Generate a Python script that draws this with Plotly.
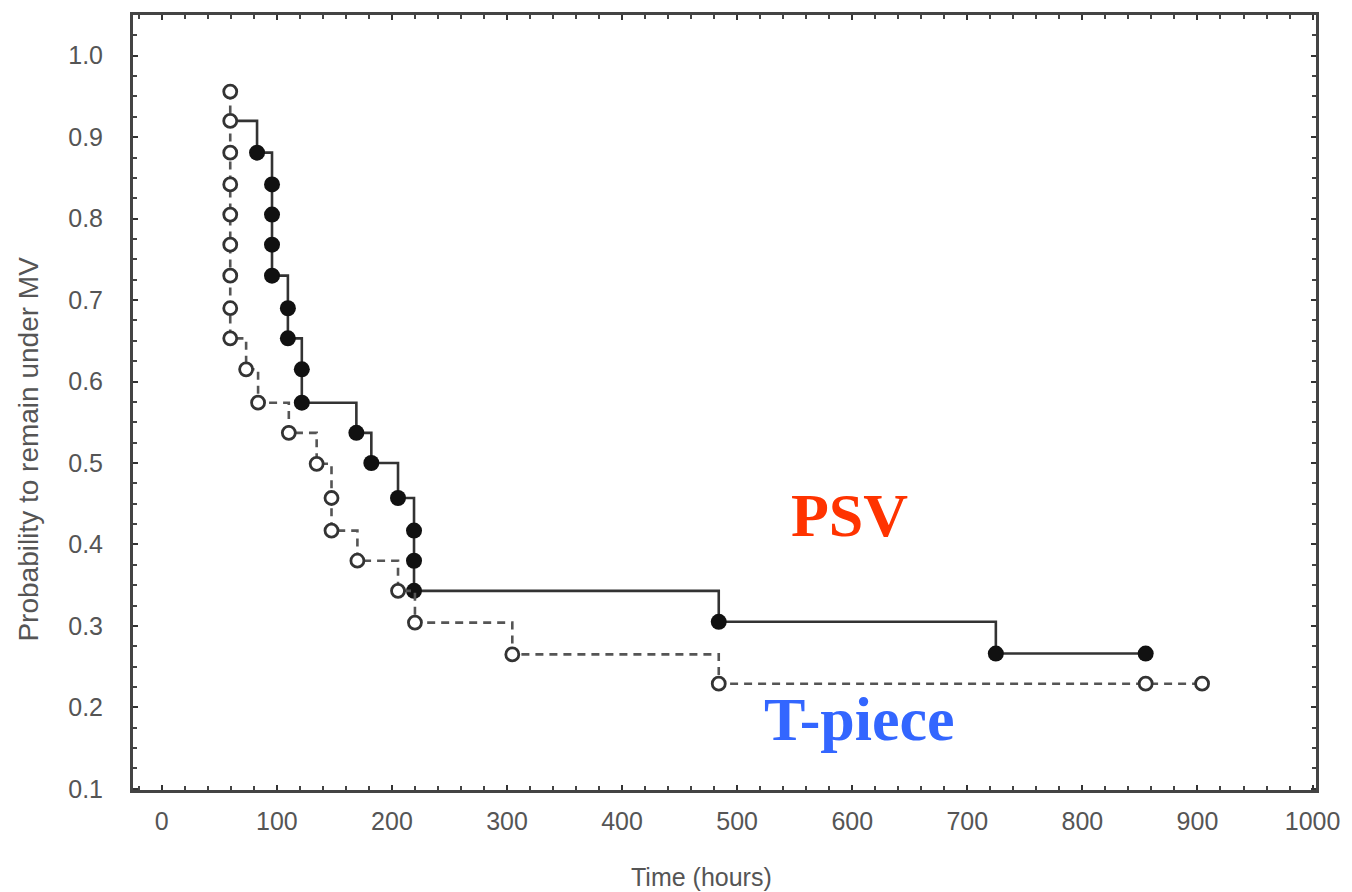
import plotly.graph_objects as go

# ---- data ----
psv_time = [59.5, 82.8, 95.8, 95.8, 95.8, 95.8, 109.6, 109.6, 121.7, 121.7,
            169.1, 182.1, 205.3, 219.2, 219.2, 219.2, 484.0, 724.8, 855.0]
psv_prob = [0.920, 0.881, 0.842, 0.805, 0.768, 0.730, 0.690, 0.653, 0.615, 0.574,
            0.537, 0.500, 0.457, 0.417, 0.380, 0.343, 0.305, 0.266, 0.266]

tp_time = [59.5, 59.5, 59.5, 59.5, 59.5, 59.5, 59.5, 59.5, 59.5, 73.3,
           83.7, 110.4, 134.6, 147.5, 147.5, 170.0, 205.3, 220.0, 304.6, 484.0,
           855.0, 904.0]
tp_prob = [0.956, 0.920, 0.881, 0.842, 0.805, 0.768, 0.730, 0.690, 0.653, 0.615,
           0.574, 0.537, 0.499, 0.457, 0.417, 0.380, 0.343, 0.304, 0.265, 0.229,
           0.229, 0.229]

x_ticks = [0, 100, 200, 300, 400, 500, 600, 700, 800, 900, 1000]
y_ticks = [0.1, 0.2, 0.3, 0.4, 0.5, 0.6, 0.7, 0.8, 0.9, 1.0]

labels = {"psv": "PSV", "tp": "T-piece",
          "x": "Time (hours)", "y": "Probability to remain under MV"}

fig = go.Figure()

# PSV step line (solid)
fig.add_trace(go.Scatter(
    x=psv_time, y=psv_prob, mode="lines", line_shape="hv",
    line=dict(color="#333333", width=2.6), showlegend=False, hoverinfo="skip"))
# PSV markers (filled)
fig.add_trace(go.Scatter(
    x=psv_time[1:], y=psv_prob[1:], mode="markers",
    marker=dict(symbol="circle", size=16, color="#111111",
                line=dict(color="#111111", width=0)),
    showlegend=False, name=labels["psv"]))

# T-piece step line (dashed)
fig.add_trace(go.Scatter(
    x=tp_time, y=tp_prob, mode="lines", line_shape="hv",
    line=dict(color="#555555", width=2.6, dash="8px,6px"),
    showlegend=False, hoverinfo="skip"))
# T-piece markers (open)
fig.add_trace(go.Scatter(
    x=tp_time, y=tp_prob, mode="markers",
    marker=dict(symbol="circle", size=13, color="white",
                line=dict(color="#333333", width=2.8)),
    showlegend=False, name=labels["tp"]))

tick_font = dict(family="Liberation Sans, Arial, sans-serif", size=25, color="#555555")

fig.update_xaxes(
    range=[-25, 1003], tickmode="array", tickvals=x_ticks,
    ticktext=[str(v) for v in x_ticks],
    ticks="inside", ticklen=5, tickwidth=2, tickcolor="#333333",
    minor=dict(dtick=20, tick0=0, ticks="inside", ticklen=4, tickwidth=2, tickcolor="#444444"),
    showline=True, linewidth=3, linecolor="#444444", mirror="ticks",
    showgrid=False, zeroline=False, tickfont=tick_font, ticklabelstandoff=7)

fig.update_yaxes(
    range=[0.0985, 1.05], tickmode="array", tickvals=y_ticks,
    ticktext=[f"{v:.1f}" for v in y_ticks],
    ticks="inside", ticklen=5, tickwidth=2, tickcolor="#333333",
    minor=dict(dtick=0.025, tick0=0.1, ticks="inside", ticklen=4, tickwidth=2, tickcolor="#444444"),
    showline=True, linewidth=3, linecolor="#444444", mirror="ticks",
    showgrid=False, zeroline=False, tickfont=tick_font, ticklabelstandoff=22)

annos = [
    dict(text="<b>%s</b>" % labels["psv"], x=598, y=0.436, xref="x", yref="y",
         showarrow=False, xanchor="center", yanchor="middle",
         font=dict(family="Liberation Serif, Times New Roman, serif", size=62, color="#FF3300")),
    dict(text="<b>%s</b>" % labels["tp"], x=606, y=0.186, xref="x", yref="y",
         showarrow=False, xanchor="center", yanchor="middle",
         font=dict(family="Liberation Serif, Times New Roman, serif", size=62, color="#3366FF")),
    dict(text=labels["x"], x=705 / 1352, y=1 - 877 / 892, xref="paper", yref="paper",
         xanchor="center", yanchor="middle", showarrow=False,
         font=dict(family="Liberation Sans, Arial, sans-serif", size=25, color="#555555")),
    dict(text=labels["y"], x=28 / 1352, y=1 - 448 / 892, xref="paper", yref="paper",
         xanchor="center", yanchor="middle", showarrow=False, textangle=-90,
         font=dict(family="Liberation Sans, Arial, sans-serif", size=28, color="#555555")),
]
# convert page-pixel based positions into plot-area paper coordinates
L, R, T, B = 133, 28, 13, 102
W, H = 1352, 892
pw, ph = W - L - R, H - T - B
for a in annos[2:]:
    px = a["x"] * W
    py = (1 - a["y"]) * H
    a["x"] = (px - L) / pw
    a["y"] = 1 - (py - T) / ph

fig.update_layout(
    width=W, height=H, margin=dict(l=L, r=R, t=T, b=B),
    paper_bgcolor="white", plot_bgcolor="white",
    annotations=annos, showlegend=False)

fig.write_html("out.html")
